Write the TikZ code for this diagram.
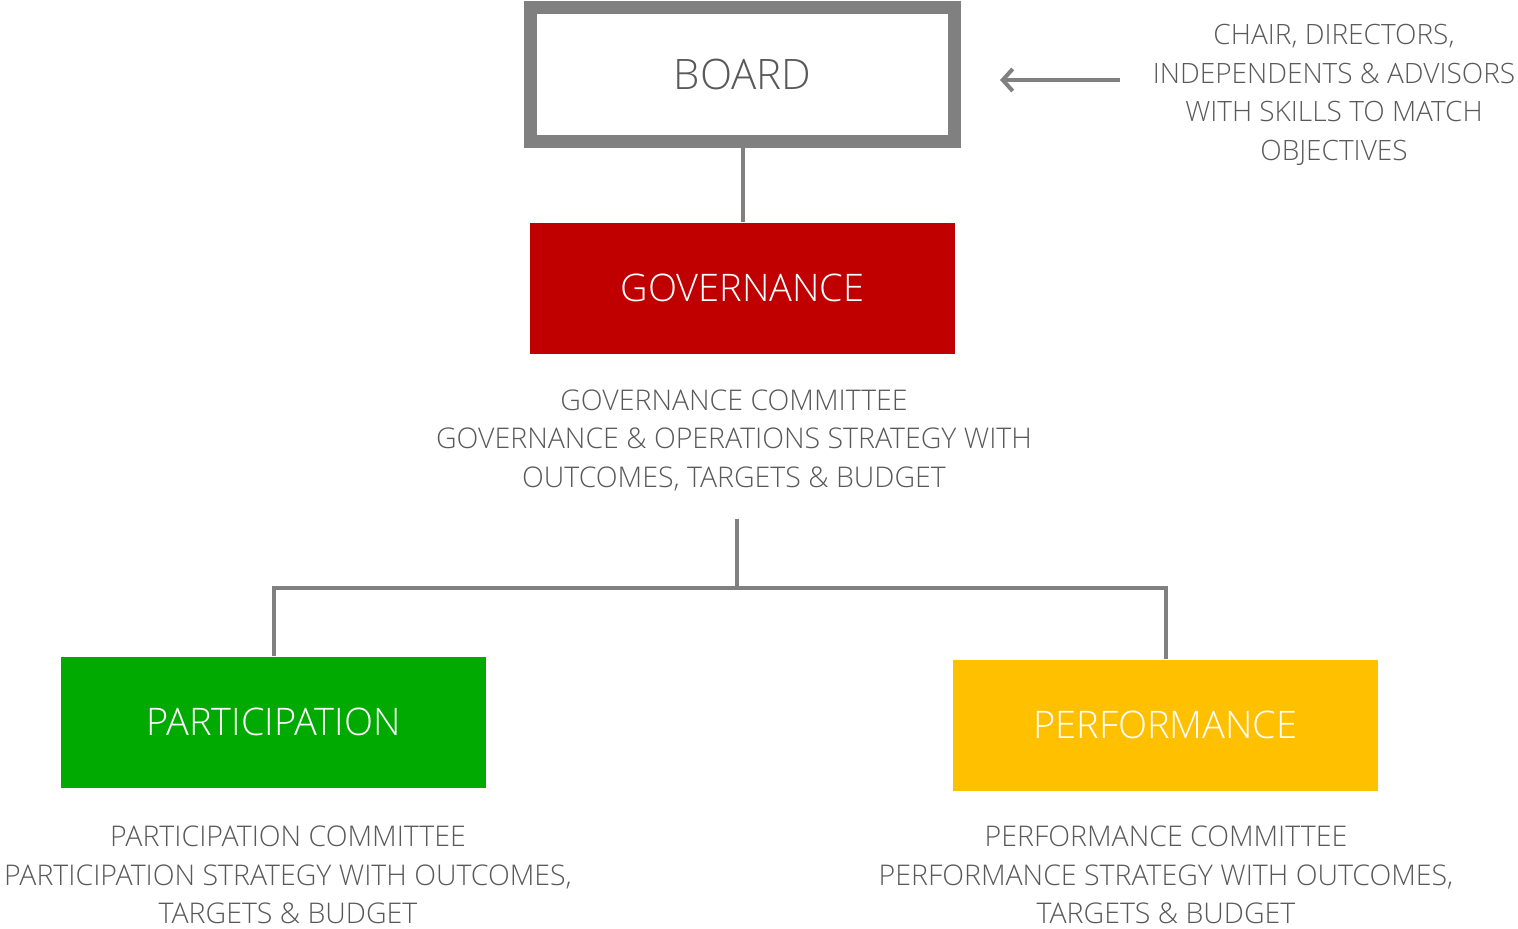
\documentclass[tikz,border=0pt]{standalone}
\usepackage{fontspec}
\setmainfont{Open Sans Light}
\usetikzlibrary{arrows.meta}
\definecolor{linegray}{HTML}{808080}
\definecolor{txtgray}{HTML}{595959}
\definecolor{govred}{HTML}{C00000}
\definecolor{partgreen}{HTML}{00AA00}
\definecolor{perfgold}{HTML}{FFC000}
\tikzset{
  conn/.style={draw=linegray, line width=4pt},
  colbox/.style={minimum width=425pt, minimum height=131pt, inner sep=0pt, text=white, font=\fontsize{38}{42}\selectfont},
  desc/.style={align=center, text=txtgray, inner sep=0pt, font=\fontsize{28.5}{38.5}\selectfont},
}
\begin{document}
\begin{tikzpicture}[x=1pt,y=-1pt]
\useasboundingbox (0,0) rectangle (1518,929);
% board
\node[draw=linegray, line width=13pt, minimum width=424pt, minimum height=134pt, inner sep=0pt, text=txtgray, font=\fontsize{42}{46}\selectfont] (board) at (742.5,74.5) {BOARD};
\node[colbox, fill=govred] (gov) at (742.5,288) {GOVERNANCE};
\node[colbox, fill=partgreen] (part) at (273.5,722) {PARTICIPATION};
\node[colbox, fill=perfgold] (perf) at (1165.5,725) {PERFORMANCE};
\node[desc] (govtxt) at (734,440) {GOVERNANCE COMMITTEE\\GOVERNANCE \& OPERATIONS STRATEGY WITH\\OUTCOMES, TARGETS \& BUDGET};
\node[desc] (parttxt) at (288,875) {PARTICIPATION COMMITTEE\\PARTICIPATION STRATEGY WITH OUTCOMES,\\TARGETS \& BUDGET};
\node[desc] (perftxt) at (1166,875) {PERFORMANCE COMMITTEE\\PERFORMANCE STRATEGY WITH OUTCOMES,\\TARGETS \& BUDGET};
\node[desc, font=\fontsize{28}{38.5}\selectfont] (side) at (1334,95) {CHAIR, DIRECTORS,\\INDEPENDENTS \& ADVISORS\\WITH SKILLS TO MATCH\\OBJECTIVES};
% connectors
\draw[conn] (board.south) -- (gov.north);
\coordinate (top) at (737,519);
\coordinate (jn) at (737,588);
\draw[conn] (top) -- (jn);
\draw[conn] (part.north) -- (part.north |- jn) -- (perf.north |- jn) -- (perf.north);
\coordinate (arrs) at (1120,80);
\coordinate (arre) at (1000,80);
\draw[conn, -{Straight Barb[length=10pt,width=22pt]}] (arrs) -- (arre);
\end{tikzpicture}
\end{document}
